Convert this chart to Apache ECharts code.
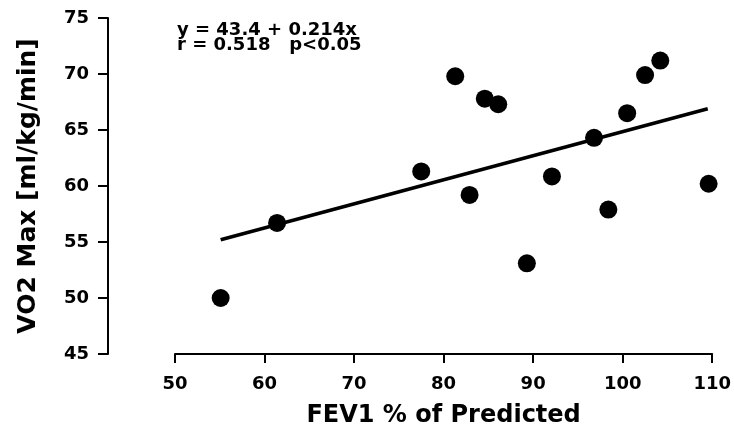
<!DOCTYPE html>
<html>
<head>
<meta charset="utf-8">
<script src="https://cdn.jsdelivr.net/npm/echarts@6/dist/echarts.min.js"></script>
<style>
html,body{margin:0;padding:0;background:#fff;}
#chart{width:734px;height:433px;}
</style>
</head>
<body>
<div id="chart"></div>
<script>
// Data
var fev1 = [55.1, 61.4, 77.5, 81.3, 84.6, 86.1, 82.9, 92.1, 89.3, 96.8, 98.4, 100.5, 102.5, 104.2, 109.6];
var vo2  = [50.0, 56.7, 61.3, 69.8, 67.8, 67.3, 59.2, 60.85, 53.1, 64.3, 57.9, 66.5, 69.9, 71.2, 60.2];
// regression line end points as drawn
var fitX = [55.1, 109.5];
var fitY = [55.2, 66.9];
var eqLine1 = 'y = 43.4 + 0.214x';
var eqLine2 = 'r = 0.518   p<0.05';
var xTitle = 'FEV1 % of Predicted';
var yTitle = 'VO2 Max [ml/kg/min]';

var pts = fev1.map(function(v, i){ return [v, vo2[i]]; });
var fit = fitX.map(function(v, i){ return [v, fitY[i]]; });

var FONT = '"DejaVu Sans", sans-serif';
var chart = echarts.init(document.getElementById('chart'), null, {renderer: 'canvas'});
chart.setOption({
  animation: false,
  backgroundColor: '#fff',
  grid: {left: 175, right: 18, top: 18, bottom: 78, containLabel: false},
  xAxis: {
    type: 'value', min: 50, max: 110, interval: 10,
    name: xTitle, nameLocation: 'middle', nameGap: 50,
    nameTextStyle: {fontFamily: FONT, fontWeight: 'bold', fontSize: 24, color: '#000'},
    axisLine: {show: true, lineStyle: {color: '#000', width: 2}},
    axisTick: {show: true, inside: false, length: 9, lineStyle: {color: '#000', width: 2}},
    axisLabel: {color: '#000', fontFamily: FONT, fontWeight: 'bold', fontSize: 18, margin: 21},
    splitLine: {show: false}
  },
  yAxis: {
    type: 'value', min: 45, max: 75, interval: 5, offset: 67,
    name: yTitle, nameLocation: 'middle', nameGap: 67, nameRotate: 90,
    nameTextStyle: {fontFamily: FONT, fontWeight: 'bold', fontSize: 25, color: '#000'},
    axisLine: {show: true, lineStyle: {color: '#000', width: 2}},
    axisTick: {show: true, inside: false, length: 10, lineStyle: {color: '#000', width: 2}},
    axisLabel: {color: '#000', fontFamily: FONT, fontWeight: 'bold', fontSize: 18, margin: 19},
    splitLine: {show: false}
  },
  graphic: [
    {type: 'text', left: 177, top: 21, style: {text: eqLine1, fill: '#000', font: 'bold 18px "DejaVu Sans", sans-serif'}},
    {type: 'text', left: 177, top: 36, style: {text: eqLine2, fill: '#000', font: 'bold 18px "DejaVu Sans", sans-serif'}}
  ],
  series: [
    {type: 'line', data: fit, symbol: 'none', lineStyle: {color: '#000', width: 3.5}, z: 1, silent: true},
    {type: 'scatter', data: pts, symbol: 'circle', symbolSize: 18, itemStyle: {color: '#000', opacity: 1}, z: 2}
  ]
});
</script>
</body>
</html>
